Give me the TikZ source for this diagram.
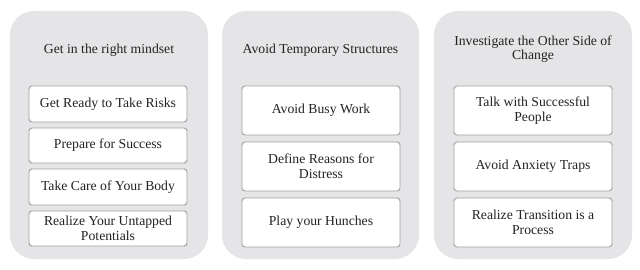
\documentclass[tikz,border=0pt]{standalone}
\usepackage{fontspec}
\setmainfont{Liberation Serif}
\definecolor{panelgray}{RGB}{229,229,231}
\definecolor{boxline}{RGB}{160,160,160}
\definecolor{txt}{RGB}{35,35,35}
\begin{document}
\begin{tikzpicture}[x=1pt,y=-1pt,
  panel/.style={fill=panelgray,draw=none,rounded corners=24pt},
  item/.style={draw=boxline,line width=0.9pt,fill=white,rounded corners=3pt,
    minimum width=158pt,inner sep=0pt,align=center,text=txt,
    font=\fontsize{13.7}{15}\selectfont},
  ttl/.style={align=center,text=txt,font=\fontsize{13.7}{14.5}\selectfont,inner sep=0pt}]
\useasboundingbox (0,0) rectangle (640,270);
\fill[white] (0,0) rectangle (640,270);
% panels
\path[panel] (10,11) rectangle (208,259);
\path[panel] (222,11) rectangle (419,259);
\path[panel] (434,11) rectangle (632,259);
% titles
\node[ttl] (t1) at (109,50) {Get in the right mindset};
\node[ttl] (t2) at (320.5,50) {Avoid Temporary Structures};
\node[ttl] (t3) at (533,49) {Investigate the Other Side of\\Change};
% panel 1 items
\node[item,minimum height=36pt] (a1) at (108,104) {Get Ready to Take Risks};
\node[item,minimum height=35pt] (a2) at (108,145.5) {Prepare for Success};
\node[item,minimum height=36pt] (a3) at (108,187) {Take Care of Your Body};
\node[item,minimum height=35pt] (a4) at (108,228.5) {Realize Your Untapped\\Potentials};
% panel 2 items
\node[item,minimum height=49pt] (b1) at (321,110.5) {Avoid Busy Work};
\node[item,minimum height=49pt] (b2) at (321,166.5) {Define Reasons for\\Distress};
\node[item,minimum height=49pt] (b3) at (321,222.5) {Play your Hunches};
% panel 3 items
\node[item,minimum height=49pt] (c1) at (533,110.5) {Talk with Successful\\People};
\node[item,minimum height=49pt] (c2) at (533,166.5) {Avoid Anxiety Traps};
\node[item,minimum height=49pt] (c3) at (533,222.5) {Realize Transition is a\\Process};
\end{tikzpicture}
\end{document}
